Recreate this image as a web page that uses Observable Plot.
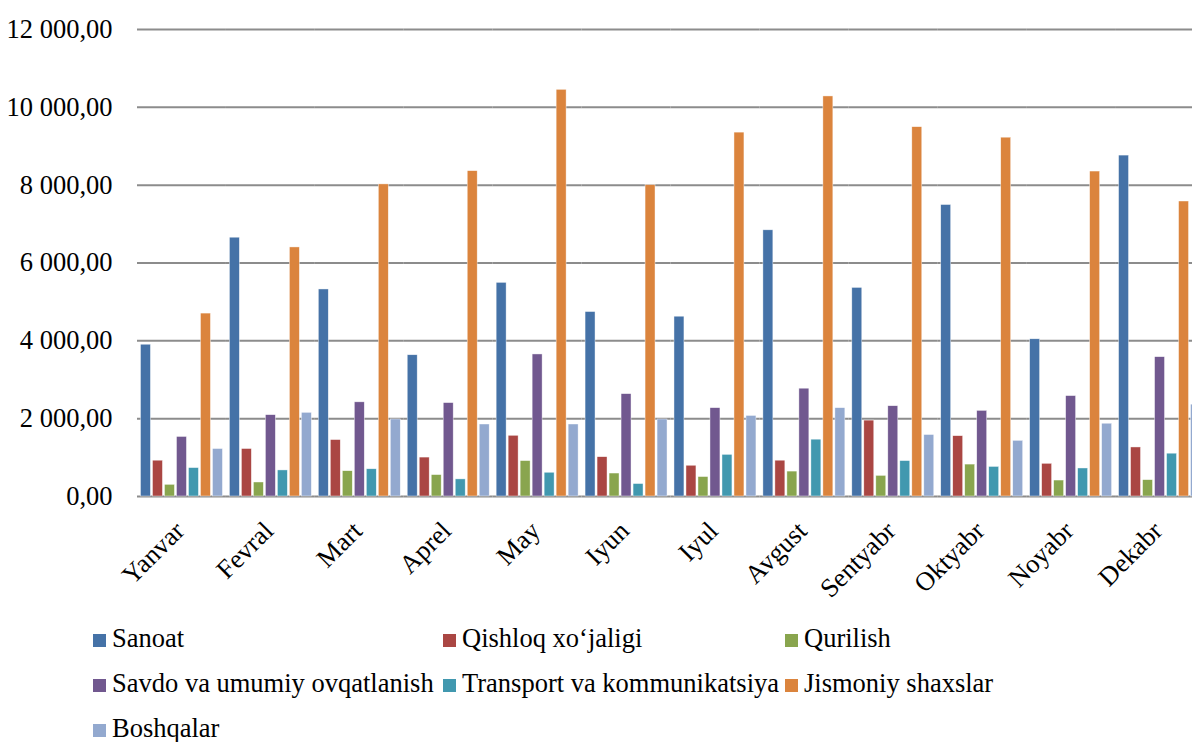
<!DOCTYPE html>
<html><head><meta charset="utf-8">
<script src="https://cdn.jsdelivr.net/npm/d3@7"></script>
<script src="https://cdn.jsdelivr.net/npm/@observablehq/plot@0.6"></script>
<style>
html,body{margin:0;padding:0;background:#fff;overflow:hidden;width:1192px;height:742px;position:relative;}
#chart{position:absolute;left:0;top:0;width:1204px;}
#chart svg{max-width:none !important;}
.leg{position:absolute;font-family:"Liberation Serif",serif;font-size:26.5px;color:#000;white-space:nowrap;line-height:27px;}
.sw{position:absolute;width:13px;height:13px;}
</style></head><body>
<div id="chart"></div><div id="legend"></div>
<script>
const months = ["Yanvar","Fevral","Mart","Aprel","May","Iyun","Iyul","Avgust","Sentyabr","Oktyabr","Noyabr","Dekabr"];
const seriesNames = ["Sanoat","Qishloq xo‘jaligi","Qurilish","Savdo va umumiy ovqatlanish","Transport va kommunikatsiya","Jismoniy shaxslar","Boshqalar"];
const colors = ["#4572A7","#AA4643","#89A54E","#71588F","#4198AF","#DB843D","#93A9CF"];
const yTicks = [0,2000,4000,6000,8000,10000,12000];

const sanoat    = [3900,6650,5320,3630,5490,4740,4620,6840,5360,7490,4040,8760];
const qishloq   = [920,1220,1450,1000,1560,1010,790,920,1950,1550,840,1260];
const qurilish  = [300,360,650,550,910,590,500,640,530,820,410,420];
const savdo     = [1530,2090,2420,2400,3650,2630,2270,2770,2320,2200,2580,3580];
const transport = [730,670,700,440,610,320,1070,1460,910,760,720,1100];
const jismoniy  = [4700,6400,8020,8360,10450,8000,9350,10280,9490,9220,8350,7580];
const boshqalar = [1220,2150,1980,1850,1850,1980,2070,2270,1580,1430,1870,2360];

const seriesValues = [sanoat,qishloq,qurilish,savdo,transport,jismoniy,boshqalar];
const data = months.flatMap((m,i)=>seriesNames.map((s,j)=>({month:m, series:s, value:seriesValues[j][i]})));

const fmt = v => d3.format(",.2f")(v).replace(/,/g," ").replace(".",",");

const chart = Plot.plot({
  width: 1204, height: 600,
  marginLeft: 137, marginRight: 0, marginTop: 29, marginBottom: 104,
  style: {fontFamily: "Liberation Serif", fontSize: "26.5px", color: "#000", background: "#fff", overflow: "visible", maxWidth: "none"},
  fx: {domain: months, paddingInner: 0, paddingOuter: 0, round: false, label: null},
  x: {domain: seriesNames, axis: null, paddingInner: 0.17, paddingOuter: 0.29, round: false},
  y: {domain: [0,12000], label: null},
  color: {domain: seriesNames, range: colors},
  marks: [
    Plot.ruleY(yTicks, {stroke: "#8c8c8c", strokeWidth: 2}),
    Plot.barY(data, {fx: "month", x: "series", y: "value", fill: "series", stroke: "#fff", strokeWidth: 0.6, strokeOpacity: 0.7}),
    Plot.axisY({ticks: yTicks, tickSize: 0, tickPadding: 25, tickFormat: fmt, fontSize: 26.5, label: null}),
    Plot.axisFx({anchor: "bottom", tickSize: 0, tickPadding: 30, dx: -2, tickRotate: -45, fontSize: 26.5, label: null})
  ]
});
chart.style.maxWidth = "none";
document.getElementById("chart").appendChild(chart);

// legend
const legCols = [93, 443, 785];
const legRows = [640, 685, 730];
const leg = document.getElementById("legend");
seriesNames.forEach((s,i)=>{
  const c = i % 3, r = Math.floor(i / 3);
  const sw = document.createElement("div");
  sw.className = "sw";
  sw.style.left = legCols[c] + "px";
  sw.style.top = (legRows[r] - 6) + "px";
  sw.style.background = colors[i];
  leg.appendChild(sw);
  const t = document.createElement("div");
  t.className = "leg";
  t.style.left = (legCols[c] + 19) + "px";
  t.style.top = (legRows[r] - 15) + "px";
  t.textContent = s;
  leg.appendChild(t);
});
</script>
</body></html>
